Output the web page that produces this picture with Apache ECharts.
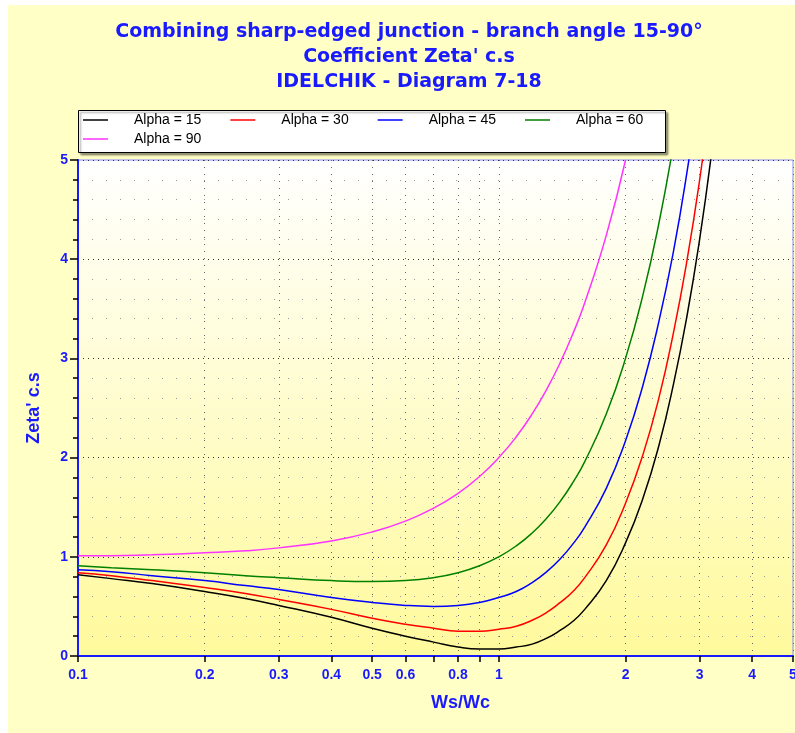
<!DOCTYPE html>
<html>
<head>
<meta charset="utf-8">
<script src="https://cdn.jsdelivr.net/npm/echarts@6/dist/echarts.min.js"></script>
<style>
  html, body { margin: 0; padding: 0; background: #ffffff; }
  #chart { position: absolute; left: 8px; top: 5px; width: 787px; height: 728px; background: #ffffc6; }
</style>
</head>
<body>
<div id="chart"></div>
<script>
// Ws/Wc values
var ratio = [0.1, 0.12, 0.15, 0.2, 0.25, 0.3, 0.4, 0.5, 0.6, 0.7, 0.8, 0.9, 1.0, 1.1, 1.2, 1.3, 1.4, 1.5, 1.6, 1.8, 2.0, 2.2, 2.4, 2.6, 2.8, 3.0, 3.2];

var alpha15 = [0.82, 0.78, 0.73, 0.65, 0.58, 0.51, 0.39, 0.28, 0.20, 0.14, 0.09, 0.07, 0.07, 0.09, 0.12, 0.18, 0.26, 0.35, 0.47, 0.76, 1.14, 1.59, 2.12, 2.74, 3.43, 4.20, 5.06];
var alpha30 = [0.84, 0.81, 0.76, 0.69, 0.63, 0.57, 0.47, 0.38, 0.32, 0.28, 0.25, 0.25, 0.27, 0.30, 0.36, 0.44, 0.54, 0.65, 0.79, 1.12, 1.54, 2.03, 2.60, 3.26, 3.99, 4.80, 5.70];
var alpha45 = [0.87, 0.85, 0.81, 0.76, 0.71, 0.67, 0.59, 0.54, 0.51, 0.50, 0.51, 0.54, 0.59, 0.65, 0.74, 0.85, 0.98, 1.13, 1.30, 1.69, 2.17, 2.73, 3.37, 4.08, 4.88, 5.76];
var alpha60 = [0.91, 0.89, 0.87, 0.84, 0.81, 0.79, 0.76, 0.75, 0.76, 0.79, 0.84, 0.91, 1.00, 1.11, 1.24, 1.39, 1.56, 1.75, 1.96, 2.44, 3.00, 3.64, 4.36, 5.16];
var alpha90 = [1.01, 1.01, 1.02, 1.04, 1.06, 1.09, 1.16, 1.25, 1.36, 1.49, 1.64, 1.81, 2.00, 2.21, 2.44, 2.69, 2.96, 3.25, 3.56, 4.24, 5.00];

var seriesNames = ['Alpha = 15', 'Alpha = 30', 'Alpha = 45', 'Alpha = 60', 'Alpha = 90'];
var seriesColors = ['#000000', '#ff0000', '#0000ff', '#008000', '#ff33ff'];
var seriesData = [alpha15, alpha30, alpha45, alpha60, alpha90];

var xTicks = [0.1, 0.2, 0.3, 0.4, 0.5, 0.6, 0.7, 0.8, 0.9, 1, 2, 3, 4, 5];
var xLabels = [0.1, 0.2, 0.3, 0.4, 0.5, 0.6, 0.8, 1, 2, 3, 4, 5];

function pairs(ys) {
    var out = [];
    for (var i = 0; i < ys.length; i++) {
        out.push([ratio[i], ys[i]]);
    }
    return out;
}

var blue = '#1a1aff';
var series = [];
for (var k = 0; k < seriesNames.length; k++) {
    series.push({
        name: seriesNames[k],
        type: 'line',
        smooth: 0.5,
        symbol: 'none',
        clip: true,
        lineStyle: { width: 1.5, color: seriesColors[k] },
        itemStyle: { color: seriesColors[k] },
        data: pairs(seriesData[k])
    });
}

// both legend rows share the same look
function legendRow(top, names) {
    return {
        left: 75,
        top: top,
        orient: 'horizontal',
        padding: 0,
        icon: 'rect',
        itemWidth: 25,
        itemHeight: 1.5,
        itemGap: 29,
        textStyle: {
            color: '#000000',
            fontFamily: 'Liberation Sans, Arial',
            fontSize: 14,
            padding: [0, 0, 0, 21]
        },
        data: names
    };
}

var myChart = echarts.init(document.getElementById('chart'));

var option = {
    animation: false,
    title: {
        text: 'Combining sharp-edged junction - branch angle 15-90°\nCoefficient Zeta\' c.s\nIDELCHIK - Diagram 7-18',
        left: 396,
        textAlign: 'center',
        top: 10,
        textStyle: {
            color: blue,
            fontFamily: 'DejaVu Sans',
            fontWeight: 'bold',
            fontSize: 19,
            lineHeight: 25
        }
    },
    // legend frame
    graphic: [{
        type: 'rect',
        left: 70,
        top: 105,
        z: 0,
        shape: { width: 587, height: 42 },
        style: {
            fill: '#ffffff',
            stroke: '#000000',
            lineWidth: 1,
            shadowColor: 'rgba(0,0,0,0.4)',
            shadowOffsetX: 2,
            shadowOffsetY: 2,
            shadowBlur: 2
        }
    }],
    legend: [
        legendRow(108, seriesNames.slice(0, 4)),
        legendRow(127, seriesNames.slice(4))
    ],
    grid: {
        left: 70,
        right: 2,
        top: 155,
        bottom: 77,
        outerBoundsMode: 'none',
        show: true,
        borderColor: '#8888ff',
        borderWidth: 1,
        backgroundColor: new echarts.graphic.LinearGradient(0, 0, 0, 1, [
            { offset: 0, color: '#ffffff' },
            { offset: 1, color: '#fffa9c' }
        ])
    },
    xAxis: [{
        type: 'log',
        logBase: 10,
        min: 0.1,
        max: 5,
        name: 'Ws/Wc',
        nameLocation: 'middle',
        nameGap: 38,
        nameTextStyle: {
            color: blue,
            fontFamily: 'Liberation Sans, Arial',
            fontWeight: 'bold',
            fontSize: 18,
            padding: [0, 0, 0, 50]
        },
        axisLine: { onZero: false, lineStyle: { color: blue, width: 2 } },
        axisTick: {
            customValues: xTicks,
            length: 6,
            lineStyle: { color: '#000000', width: 1.5 }
        },
        axisLabel: {
            customValues: xLabels,
            color: blue,
            fontFamily: 'Liberation Sans, Arial',
            fontSize: 14,
            fontWeight: 'bold',
            margin: 12,
            showMinLabel: true,
            showMaxLabel: true,
            hideOverlap: false
        },
        splitLine: {
            show: true,
            lineStyle: { color: '#666666', width: 1, type: [1, 6] }
        }
    }],
    yAxis: [{
        type: 'value',
        min: 0,
        max: 5,
        interval: 1,
        name: 'Zeta\' c.s',
        nameLocation: 'middle',
        nameGap: 35,
        nameTextStyle: {
            color: blue,
            fontFamily: 'Liberation Sans, Arial',
            fontWeight: 'bold',
            fontSize: 18
        },
        axisLine: { show: true, lineStyle: { color: blue, width: 2 } },
        axisTick: { show: true, length: 8, lineStyle: { color: '#000000', width: 1.5 } },
        minorTick: { show: true, splitNumber: 5, length: 5, lineStyle: { color: '#000000', width: 1.5 } },
        axisLabel: {
            color: blue,
            fontFamily: 'Liberation Sans, Arial',
            fontSize: 14,
            fontWeight: 'bold',
            margin: 10
        },
        splitLine: {
            show: true,
            lineStyle: { color: '#333333', width: 1, type: [1, 4] }
        },
        minorSplitLine: {
            show: true,
            lineStyle: { color: '#999999', width: 1, type: [1, 13] }
        }
    }],
    series: series
};

myChart.setOption(option);
</script>
</body>
</html>
